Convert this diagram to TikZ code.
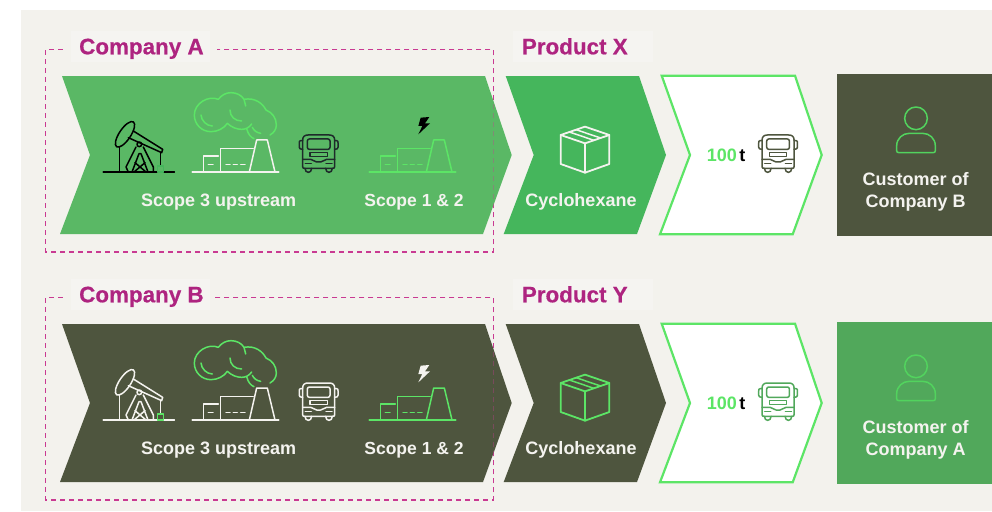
\documentclass[tikz,border=0pt]{standalone}
\usepackage{fontspec}
\setmainfont{Liberation Sans}
\newfontfamily\headf[BoldFeatures={FakeBold=0.5}]{Liberation Sans}
\definecolor{bgc}{HTML}{F3F2ED}
\definecolor{patchc}{HTML}{F5F4F1}
\definecolor{chevA}{HTML}{5AB865}
\definecolor{chevB}{HTML}{45B65C}
\definecolor{olive}{HTML}{4E553E}
\definecolor{custA}{HTML}{51A85B}
\definecolor{bright}{HTML}{5CE566}
\definecolor{person}{HTML}{52D35E}
\definecolor{magent}{HTML}{AE2480}
\definecolor{dashc}{HTML}{C93A92}
\definecolor{soft}{HTML}{F4F3EF}
\definecolor{darkbus}{HTML}{1E2A2A}
\tikzset{
  lab/.style={anchor=base,inner sep=0pt,font=\fontsize{18}{20}\selectfont\bfseries,text=soft},
  head/.style={anchor=base west,inner sep=0pt,font=\headf\fontsize{22.4}{24}\selectfont\bfseries,text=magent},
  ico/.style={line width=1.5pt,line join=round,line cap=round},
  boundary/.style={dashc,line width=1.4pt,dash pattern=on 5pt off 4pt},
}
\newcommand{\Zone}[2]{\begin{scope}[xshift=#1pt,yshift=-#2pt,x=0.33333pt,y=-0.33333pt]}
\newcommand{\pumpjack}[2]{%
  \draw[ico,#1,line width=1.7pt] (190,456)--(403,456);
  \draw[ico,#1,rotate around={56:(255,343)}] (255,343) ellipse [x radius=45,y radius=17];
  \draw[ico,#1] (280,333)--(368,388)--(365,398)--(265,353);
  \draw[ico,#1] (238,381)--(238,456);
  \draw[ico,#1] (298,373) circle (7);
  \draw[ico,#1] (288,381)--(258,441)--(265,456);
  \draw[ico,#1] (310,381)--(340,441)--(340,456);
  \draw[ico,#1] (297,401)--(276,456) (303,401)--(324,456) (297,401)--(303,401);
  \draw[ico,#1] (285,428)--(318,456) (315,428)--(282,456);
  \draw[ico,#1] (361,398)--(361,438);
  \draw[ico,#2] (352,438) rectangle (370,456);}
\newcommand{\factory}[1]{%
  \draw[ico,#1,line width=1.7pt] (457,456)--(716,456);
  \draw[ico,#1] (490,456)--(490,408)--(535,408);
  \draw[ico,#1] (542,456)--(542,386)--(640,386);
  \draw[ico,#1] (628,456)--(650,360)--(682,360)--(705,456);
  \draw[ico,#1] (505,434)--(519,434);
  \draw[ico,#1] (558,434)--(570,434) (580,434)--(592,434) (602,434)--(615,434);}
\newcommand{\smoke}[1]{%
  \draw[ico,#1] (535,238) .. controls (505,225) and (463,250) .. (463,285) .. controls (463,313) and (485,335) .. (513,335) .. controls (533,335) and (552,325) .. (562,310);
  \draw[ico,#1] (562,310) .. controls (575,322) and (590,328) .. (605,328) .. controls (618,328) and (628,322) .. (635,312);
  \draw[ico,#1] (535,238) .. controls (545,225) and (558,218) .. (573,218) .. controls (590,218) and (605,226) .. (612,238) -- (617,258);
  \draw[ico,#1] (612,238) .. controls (645,232) and (668,250) .. (678,270);
  \draw[ico,#1] (678,270) .. controls (698,278) and (709,295) .. (709,315) .. controls (709,328) and (702,338) .. (690,345);
  \draw[ico,#1] (620,326) .. controls (624,342) and (632,352) .. (642,356);
  \draw[ico,#1] (483,285) .. controls (484,302) and (500,318) .. (517,318);
  \draw[ico,#1] (570,270) .. controls (570,290) and (585,303) .. (605,303);
  \draw[ico,#1] (637,322) .. controls (642,332) and (650,338) .. (662,340);}
\newcommand{\busicon}[1]{%
  \draw[ico,#1] (788,360) .. controls (788,350) and (794,345) .. (804,345) -- (868,345) .. controls (878,345) and (884,350) .. (884,360) -- (884,440) .. controls (884,444) and (882,445) .. (878,445) -- (794,445) .. controls (790,445) and (788,444) .. (788,440) -- cycle;
  \draw[ico,#1] (788,362) -- (782,362) .. controls (778,362) and (778,365) .. (778,368) -- (778,382) .. controls (778,386) and (781,388) .. (788,388);
  \draw[ico,#1] (884,362) -- (890,362) .. controls (894,362) and (894,365) .. (894,368) -- (894,382) .. controls (894,386) and (891,388) .. (884,388);
  \draw[ico,#1,rounded corners=2pt] (802,357) rectangle (870,388);
  \draw[ico,#1] (810,398) rectangle (862,410);
  \draw[ico,#1] (788,418)--(812,418) .. controls (820,418) and (822,426) .. (830,426) -- (842,426) .. controls (850,426) and (852,418) .. (860,418) -- (884,418);
  \draw[ico,#1] (796,430)--(814,430) (858,430)--(876,430);
  \draw[ico,#1] (795,445) .. controls (795,461) and (815,461) .. (815,445);
  \draw[ico,#1] (857,445) .. controls (857,461) and (877,461) .. (877,445);}
\newcommand{\boltmark}[1]{%
  \fill[#1] (1142,293)--(1168,291)--(1155,310)--(1170,310)--(1135,343)--(1147,318)--(1135,318)--cycle;}
\newcommand{\parcel}[1]{%
  \draw[ico,#1,line width=1.8pt] (285,320)--(358,345)--(358,432)--(285,458)--(212,432)--(212,345)--cycle;
  \draw[ico,#1,line width=1.8pt] (212,345)--(285,370)--(358,345) (285,370)--(285,458);
  \draw[ico,#1,line width=1.5pt] (238,336)--(312,361) (258,329)--(332,354);}
\newcommand{\personicon}[1]{%
  \draw[ico,#1] (1278,295) circle (34);
  \draw[ico,#1] (1227,398) .. controls (1222,398) and (1220,396) .. (1220,392) -- (1220,378) .. controls (1220,355) and (1238,340) .. (1258,340) -- (1298,340) .. controls (1318,340) and (1336,355) .. (1336,378) -- (1336,392) .. controls (1336,396) and (1334,398) .. (1329,398) -- cycle;}
\newcommand{\Row}[8]{%
  \begin{scope}[yshift=-#1pt]
    \fill[patchc] (70.7,30.7) rectangle (210,61.7);
    \fill[patchc] (513,30.7) rectangle (652.7,61.7);
    \draw[boundary] (62.7,49.3)--(45.7,49.3)--(45.7,252)--(493.3,252)--(493.3,49.3)--(#8,49.3);
    \fill[#2] (62,76)--(485,76)--(511.7,155)--(483,234)--(60,234)--(90,155)--cycle;
    \draw[boundary,opacity=0.35] (62.7,49.3)--(45.7,49.3)--(45.7,252)--(493.3,252)--(493.3,49.3)--(#8,49.3);
    \fill[#3] (505.7,76)--(639,76)--(666,155)--(637,234)--(503.7,234)--(533.7,155)--cycle;
    \draw[bright,fill=white,line width=2.2pt,miter limit=10] (661.7,75.7)--(795,75.7)--(821.7,155)--(792.7,234.3)--(660,234.3)--(690,155)--cycle;
    \fill[#4] (836.7,74) rectangle (992,236);
    \node[head] (co#1) at (79,54.3) {#5};
    \node[head] (pr#1) at (521.7,54.3) {#6};
    \node[lab] (sa#1) at (218.7,206) {Scope 3 upstream};
    \node[lab,font=\fontsize{17.5}{20}\selectfont\bfseries] (sb#1) at (414,206) {Scope 1 \& 2};
    \node[lab] (cy#1) at (581,206) {Cyclohexane};
    \node[lab] (cua#1) at (915.7,185) {Customer of};
    \node[lab] (cub#1) at (915.7,207) {#7};
    \node[anchor=base west,inner sep=0pt,font=\fontsize{18}{20}\selectfont\bfseries] (t#1) at (706.7,161) {\textcolor{bright}{100}\hspace{0.14em}t};
  \end{scope}}
\begin{document}
\begin{tikzpicture}[x=1pt,y=-1pt]
\useasboundingbox (0,0) rectangle (992,511);
\fill[white] (0,0) rectangle (992,511);
\fill[bgc] (20.5,10) rectangle (992,511);
\Row{0}{chevA}{chevB}{olive}{Company A}{Product X}{Company B}{216.7}
\Row{248}{olive}{olive}{custA}{Company B}{Product Y}{Company A}{213}
% Row 1 icons
\Zone{40}{20}
  \pumpjack{black}{chevB}
  \factory{soft}
  \smoke{bright}
  \busicon{darkbus}
  \boltmark{black}
  \begin{scope}[xshift=177pt]\factory{bright}\end{scope}
  \begin{scope}[xshift=459.4pt]\busicon{olive}\end{scope}
\end{scope}
\Zone{490}{20}
  \parcel{soft}
  \personicon{person}
\end{scope}
% Row 2 icons
\Zone{40}{268}
  \pumpjack{soft}{bright}
  \factory{soft}
  \smoke{bright}
  \busicon{soft}
  \boltmark{soft}
  \begin{scope}[xshift=177pt]\factory{bright}\end{scope}
  \begin{scope}[xshift=459.4pt]\busicon{custA}\end{scope}
\end{scope}
\Zone{490}{268}
  \parcel{bright}
  \personicon{person}
\end{scope}
\end{tikzpicture}
\end{document}
